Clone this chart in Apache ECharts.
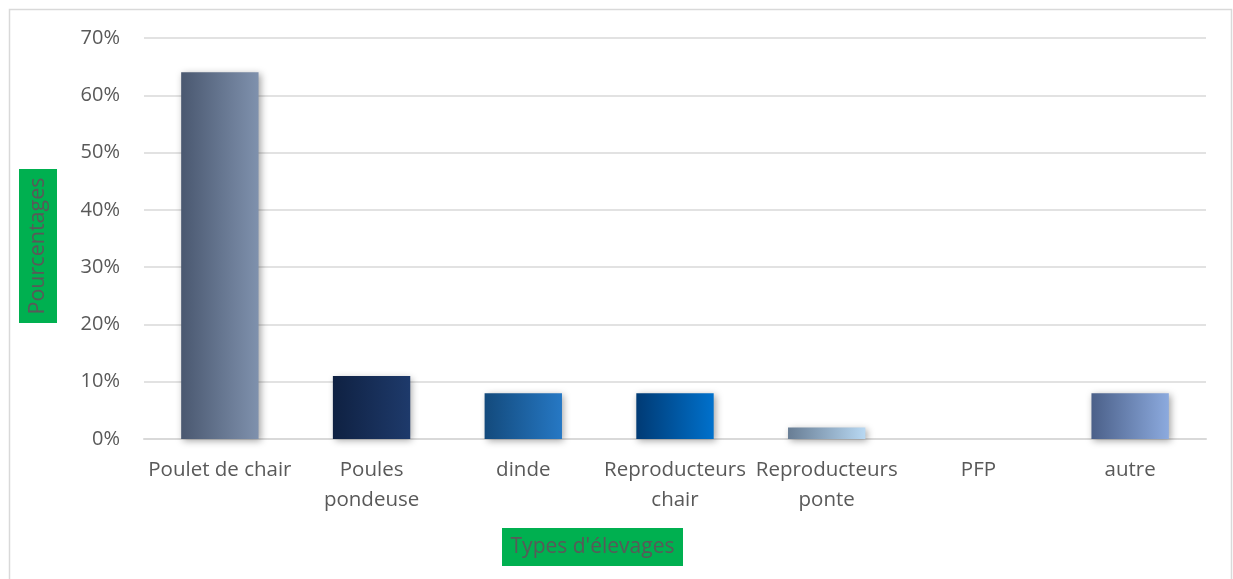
<!DOCTYPE html>
<html>
<head>
<meta charset="utf-8">
<script src="https://cdn.jsdelivr.net/npm/echarts@6/dist/echarts.min.js"></script>
<style>
  html, body { margin: 0; padding: 0; background: #ffffff; }
  #chart { width: 1233px; height: 579px; }
</style>
</head>
<body>
<div id="chart"></div>
<script>
// Types d'élevages et part de chacun (%)
const categories = ['Poulet de chair', 'Poules\npondeuse', 'dinde', 'Reproducteurs\nchair', 'Reproducteurs\nponte', 'PFP', 'autre'];
const values = [64, 11, 8, 8, 2, 0, 8];
const gradientStops = [
  ['#4a5870', '#7f91ad'],
  ['#0f2142', '#1e3a6b'],
  ['#134a7c', '#2678c4'],
  ['#003a74', '#0071cc'],
  ['#687d94', '#b8d8f2'],
  ['#555555', '#999999'],
  ['#4b6089', '#8caade']
];
const yTicks = [0, 10, 20, 30, 40, 50, 60, 70];

const FONT = '"Open Sans", Lato, sans-serif';
const chart = echarts.init(document.getElementById('chart'), null, { renderer: 'canvas' });

const data = values.map((v, i) => ({
  value: v,
  itemStyle: {
    color: new echarts.graphic.LinearGradient(0, 0, 1, 0, [
      { offset: 0, color: gradientStops[i][0] },
      { offset: 1, color: gradientStops[i][1] }
    ])
  }
}));

chart.setOption({
  animation: false,
  grid: { left: 144, right: 27, top: 38, bottom: 140 },
  xAxis: {
    type: 'category',
    data: categories,
    axisLine: { lineStyle: { color: '#d9d9d9', width: 2 } },
    axisTick: { show: false },
    axisLabel: {
      color: '#595959', fontSize: 20.5, fontFamily: FONT,
      margin: 16, lineHeight: 30, interval: 0
    }
  },
  yAxis: {
    type: 'value',
    min: yTicks[0], max: yTicks[yTicks.length - 1], interval: 10,
    axisLine: { show: false },
    axisTick: { show: false },
    splitLine: { lineStyle: { color: '#d9d9d9', width: 1.5 } },
    axisLabel: {
      color: '#595959', fontSize: 20, fontFamily: FONT, margin: 24,
      formatter: v => v + '%'
    }
  },
  series: [{
    type: 'bar',
    data: data,
    barWidth: '51%',
    itemStyle: {
      shadowBlur: 7,
      shadowColor: 'rgba(0,0,0,0.35)',
      shadowOffsetX: 2,
      shadowOffsetY: 2
    }
  }],
  graphic: [
    {
      type: 'rect', silent: true, z: -1,
      shape: { x: 9.5, y: 9.5, width: 1222, height: 600 },
      style: { fill: 'none', stroke: '#d9d9d9', lineWidth: 1.5 }
    },
    {
      type: 'group', left: 19, top: 169,
      children: [
        { type: 'rect', shape: { x: 0, y: 0, width: 38, height: 154 }, style: { fill: '#00b050' } },
        {
          type: 'text', x: 19, y: 77, rotation: Math.PI / 2,
          style: {
            text: 'Pourcentages', fill: '#595959', fontSize: 21.5, fontFamily: FONT,
            align: 'center', verticalAlign: 'middle'
          }
        }
      ]
    },
    {
      type: 'group', left: 502, top: 528,
      children: [
        { type: 'rect', shape: { x: 0, y: 0, width: 181, height: 38 }, style: { fill: '#00b050' } },
        {
          type: 'text', x: 90.5, y: 19,
          style: {
            text: "Types d'élevages", fill: '#595959', fontSize: 21, fontFamily: FONT,
            align: 'center', verticalAlign: 'middle'
          }
        }
      ]
    }
  ]
});
</script>
</body>
</html>
